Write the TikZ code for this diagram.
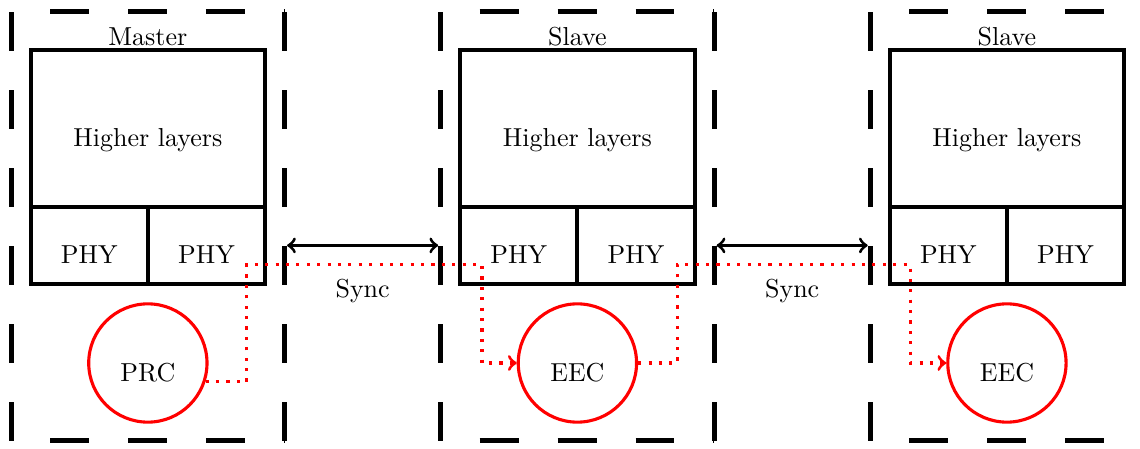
\documentclass[tikz,border=0pt]{standalone}
\usepackage{xcolor}
\usetikzlibrary{positioning}
\definecolor{clock-red}{HTML}{FF0000}
\definecolor{line-black}{HTML}{000000}

\begin{document}
\begin{tikzpicture}[
      every node/.style={font=\normalsize},
      frame/.style={outer sep=0pt, minimum width=3.70cm,
          minimum height=5.80cm},
      vside/.style={draw=line-black, line width=1.9pt,
          dash pattern=on 15pt off 15pt},
      hside/.style={vside, dash phase=15pt},
      layerbox/.style={draw=line-black, line width=1.5pt, outer sep=0pt,
          minimum width=3.17cm, minimum height=2.12cm,
          text height=14pt, text depth=0pt},
      phybox/.style={draw=line-black, line width=1.5pt, outer sep=0pt,
          minimum width=1.585cm, minimum height=1.04cm,
          text height=14pt, text depth=0pt},
      clockcirc/.style={draw=clock-red, circle, line width=1.2pt,
          minimum size=1.6cm, text height=14pt, text depth=0pt},
      rolelabel/.style={inner sep=1.5pt},
      syncarrow/.style={<->, draw=line-black, line width=1.2pt,
          shorten <=0.95pt, shorten >=0.95pt},
      clockpath/.style={->, draw=clock-red, line width=1.2pt,
          dash pattern=on 1.2pt off 2.8pt}]
    \useasboundingbox (0,0) rectangle (15.42,6.06);

    % dashed frames
    \node[frame] (m-frame) at (2.00,3.00) {};
    \node[frame] (s-frame) at (7.81,3.00) {};
    \node[frame] (t-frame) at (13.62,3.00) {};
    \draw[vside] (m-frame.south west) -- (m-frame.north west)
        (m-frame.south east) -- (m-frame.north east);
    \draw[hside] (m-frame.north west) -- (m-frame.north east)
        (m-frame.south west) -- (m-frame.south east);
    \draw[vside] (s-frame.south west) -- (s-frame.north west)
        (s-frame.south east) -- (s-frame.north east);
    \draw[hside] (s-frame.north west) -- (s-frame.north east)
        (s-frame.south west) -- (s-frame.south east);
    \draw[vside] (t-frame.south west) -- (t-frame.north west)
        (t-frame.south east) -- (t-frame.north east);
    \draw[hside] (t-frame.north west) -- (t-frame.north east)
        (t-frame.south west) -- (t-frame.south east);

    % master
    \node[layerbox] (m-hl) at (2.00,4.32) {Higher layers};
    \node[phybox, anchor=north west] (m-phy1) at (m-hl.south west) {PHY};
    \node[phybox, anchor=north east] (m-phy2) at (m-hl.south east) {PHY};
    \node[rolelabel, above=0pt of m-hl] (m-role) {Master};
    \node[clockcirc] (m-clk) at (2.00,1.15) {PRC};

    % first slave
    \node[layerbox] (s-hl) at (7.81,4.32) {Higher layers};
    \node[phybox, anchor=north west] (s-phy1) at (s-hl.south west) {PHY};
    \node[phybox, anchor=north east] (s-phy2) at (s-hl.south east) {PHY};
    \node[rolelabel, above=0pt of s-hl] (s-role) {Slave};
    \node[clockcirc] (s-clk) at (7.81,1.15) {EEC};

    % second slave
    \node[layerbox] (t-hl) at (13.62,4.32) {Higher layers};
    \node[phybox, anchor=north west] (t-phy1) at (t-hl.south west) {PHY};
    \node[phybox, anchor=north east] (t-phy2) at (t-hl.south east) {PHY};
    \node[rolelabel, above=0pt of t-hl] (t-role) {Slave};
    \node[clockcirc] (t-clk) at (13.62,1.15) {EEC};

    % sync links
    \draw[syncarrow] (m-frame.east |- m-phy2.center) --
        (s-frame.west |- m-phy2.center) node[midway, below=0.32cm] (sync-a) {Sync};
    \draw[syncarrow] (s-frame.east |- s-phy2.center) --
        (t-frame.west |- s-phy2.center) node[midway, below=0.32cm] (sync-b) {Sync};

    % clock distribution
    \coordinate (m-out) at (3.34,2.48);
    \coordinate (s-in) at (6.52,2.48);
    \coordinate (s-out) at (9.16,2.48);
    \coordinate (t-in) at (12.31,2.48);
    \draw[clockpath] (m-clk.-18) -| (m-out) -- (s-in) |- (s-clk.west);
    \draw[clockpath] (s-clk.east) -| (s-out) -- (t-in) |- (t-clk.west);
  \end{tikzpicture}
\end{document}
